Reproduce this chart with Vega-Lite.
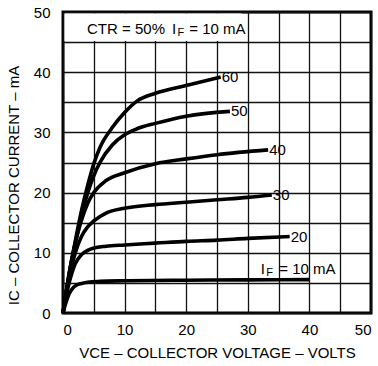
{
  "$schema": "https://vega.github.io/schema/vega-lite/v6.json",
  "width": 308,
  "height": 301,
  "autosize": {"type": "none"},
  "padding": {"left": 63, "top": 12, "right": 7, "bottom": 53},
  "background": "white",
  "config": {
    "font": "Liberation Sans",
    "view": {"stroke": "black", "strokeWidth": 3},
    "axis": {
      "grid": true, "gridColor": "#111", "gridWidth": 1.3, "gridOpacity": 1,
      "domain": false, "ticks": false,
      "labelFont": "Liberation Sans", "labelFontSize": 15, "labelColor": "black",
      "titleFont": "Liberation Sans", "titleFontSize": 15, "titleFontWeight": "normal", "titleColor": "black"
    }
  },
  "datasets": {
    "curves": [
      {"vce": 0, "ic": 0, "iF": 10}, {"vce": 0.5, "ic": 1.8, "iF": 10}, {"vce": 1, "ic": 3.2, "iF": 10}, {"vce": 1.5, "ic": 4.0, "iF": 10}, {"vce": 2, "ic": 4.5, "iF": 10}, {"vce": 3, "ic": 4.9, "iF": 10}, {"vce": 4, "ic": 5.1, "iF": 10}, {"vce": 6, "ic": 5.25, "iF": 10}, {"vce": 10, "ic": 5.35, "iF": 10}, {"vce": 20, "ic": 5.45, "iF": 10}, {"vce": 30, "ic": 5.5, "iF": 10}, {"vce": 40, "ic": 5.55, "iF": 10},
      {"vce": 0, "ic": 0, "iF": 20}, {"vce": 0.5, "ic": 2.8, "iF": 20}, {"vce": 1, "ic": 5, "iF": 20}, {"vce": 1.5, "ic": 6.8, "iF": 20}, {"vce": 2, "ic": 8.2, "iF": 20}, {"vce": 3, "ic": 9.7, "iF": 20}, {"vce": 4, "ic": 10.4, "iF": 20}, {"vce": 5, "ic": 10.8, "iF": 20}, {"vce": 7, "ic": 11.1, "iF": 20}, {"vce": 10, "ic": 11.3, "iF": 20}, {"vce": 15, "ic": 11.6, "iF": 20}, {"vce": 20, "ic": 11.9, "iF": 20}, {"vce": 25, "ic": 12.1, "iF": 20}, {"vce": 30, "ic": 12.4, "iF": 20}, {"vce": 36.8, "ic": 12.7, "iF": 20},
      {"vce": 0, "ic": 0, "iF": 30}, {"vce": 0.5, "ic": 3.2, "iF": 30}, {"vce": 1, "ic": 6, "iF": 30}, {"vce": 2, "ic": 10, "iF": 30}, {"vce": 3, "ic": 12.7, "iF": 30}, {"vce": 4, "ic": 14.3, "iF": 30}, {"vce": 5, "ic": 15.3, "iF": 30}, {"vce": 7, "ic": 16.6, "iF": 30}, {"vce": 10, "ic": 17.4, "iF": 30}, {"vce": 15, "ic": 18, "iF": 30}, {"vce": 20, "ic": 18.4, "iF": 30}, {"vce": 25, "ic": 18.8, "iF": 30}, {"vce": 30, "ic": 19.2, "iF": 30}, {"vce": 33.9, "ic": 19.6, "iF": 30},
      {"vce": 0, "ic": 0, "iF": 40}, {"vce": 0.5, "ic": 3.4, "iF": 40}, {"vce": 1, "ic": 6.6, "iF": 40}, {"vce": 2, "ic": 11.6, "iF": 40}, {"vce": 3, "ic": 15.4, "iF": 40}, {"vce": 4, "ic": 18.2, "iF": 40}, {"vce": 5, "ic": 20, "iF": 40}, {"vce": 7, "ic": 22, "iF": 40}, {"vce": 10, "ic": 23.3, "iF": 40}, {"vce": 15, "ic": 24.8, "iF": 40}, {"vce": 20, "ic": 25.6, "iF": 40}, {"vce": 25, "ic": 26.3, "iF": 40}, {"vce": 33.3, "ic": 27.1, "iF": 40},
      {"vce": 0, "ic": 0, "iF": 50}, {"vce": 0.5, "ic": 3.3, "iF": 50}, {"vce": 1, "ic": 6.4, "iF": 50}, {"vce": 2, "ic": 11.6, "iF": 50}, {"vce": 3, "ic": 16.2, "iF": 50}, {"vce": 4, "ic": 19.9, "iF": 50}, {"vce": 5, "ic": 22.8, "iF": 50}, {"vce": 6, "ic": 25, "iF": 50}, {"vce": 8, "ic": 27.9, "iF": 50}, {"vce": 10, "ic": 29.6, "iF": 50}, {"vce": 12, "ic": 30.6, "iF": 50}, {"vce": 15, "ic": 31.5, "iF": 50}, {"vce": 20, "ic": 32.7, "iF": 50}, {"vce": 27.1, "ic": 33.5, "iF": 50},
      {"vce": 0, "ic": 0, "iF": 60}, {"vce": 0.5, "ic": 3.3, "iF": 60}, {"vce": 1, "ic": 6.5, "iF": 60}, {"vce": 2, "ic": 12, "iF": 60}, {"vce": 3, "ic": 17, "iF": 60}, {"vce": 4, "ic": 21.2, "iF": 60}, {"vce": 5, "ic": 24.8, "iF": 60}, {"vce": 6, "ic": 27.5, "iF": 60}, {"vce": 8, "ic": 30.8, "iF": 60}, {"vce": 10, "ic": 33.3, "iF": 60}, {"vce": 12, "ic": 35.2, "iF": 60}, {"vce": 15, "ic": 36.5, "iF": 60}, {"vce": 20, "ic": 37.8, "iF": 60}, {"vce": 25.6, "ic": 39.2, "iF": 60}
    ],
    "box": [{"x": 0.25, "x2": 29, "y": 45.2, "y2": 49.75}],
    "mainText": [
      {"vce": 3.9, "ic": 47.1, "text": "CTR = 50%"},
      {"vce": 17.7, "ic": 47.1, "text": "I"},
      {"vce": 20.5, "ic": 47.1, "text": "=  10 mA"},
      {"vce": 32.1, "ic": 7.3, "text": "I"},
      {"vce": 35.1, "ic": 7.3, "text": "= 10 mA"}
    ],
    "subText": [
      {"vce": 18.6, "ic": 47.1, "text": "F"},
      {"vce": 33.0, "ic": 7.3, "text": "F"}
    ]
  },
  "encoding": {
    "x": {
      "field": "vce", "type": "quantitative",
      "scale": {"domain": [0, 50], "nice": false, "zero": false},
      "axis": {
        "values": [0, 5, 10, 15, 20, 25, 30, 35, 40, 45, 50],
        "labelExpr": "datum.value % 10 == 0 ? datum.label : ''",
        "labelPadding": 9, "titlePadding": 8,
        "title": "VCE  –  COLLECTOR VOLTAGE  –  VOLTS"
      }
    },
    "y": {
      "field": "ic", "type": "quantitative",
      "scale": {"domain": [0, 50], "nice": false, "zero": false},
      "axis": {
        "values": [0, 5, 10, 15, 20, 25, 30, 35, 40, 45, 50],
        "labelExpr": "datum.value % 10 == 0 ? datum.label : ''",
        "labelPadding": 13, "titlePadding": 12,
        "titleY": 173,
        "title": "IC  –  COLLECTOR CURRENT  –  mA"
      }
    }
  },
  "layer": [
    {
      "data": {"name": "box"},
      "mark": {"type": "rect", "fill": "white"},
      "encoding": {
        "x": {"field": "x", "type": "quantitative"},
        "x2": {"field": "x2"},
        "y": {"field": "y", "type": "quantitative"},
        "y2": {"field": "y2"}
      }
    },
    {
      "data": {"name": "curves"},
      "mark": {"type": "line", "color": "black", "strokeWidth": 3.6, "interpolate": "monotone", "strokeCap": "butt"},
      "encoding": {"detail": {"field": "iF", "type": "nominal"}}
    },
    {
      "data": {"name": "curves"},
      "transform": [
        {"joinaggregate": [{"op": "max", "field": "vce", "as": "maxv"}], "groupby": ["iF"]},
        {"filter": "datum.vce == datum.maxv && datum.iF > 10"}
      ],
      "mark": {"type": "text", "align": "left", "baseline": "middle", "dx": 1, "fontSize": 15, "color": "black"},
      "encoding": {"text": {"field": "iF", "type": "nominal"}}
    },
    {
      "data": {"name": "mainText"},
      "mark": {"type": "text", "align": "left", "baseline": "middle", "fontSize": 15, "color": "black"},
      "encoding": {"text": {"field": "text", "type": "nominal"}}
    },
    {
      "data": {"name": "subText"},
      "mark": {"type": "text", "align": "left", "baseline": "middle", "dy": 4, "fontSize": 11, "color": "black"},
      "encoding": {"text": {"field": "text", "type": "nominal"}}
    }
  ]
}
